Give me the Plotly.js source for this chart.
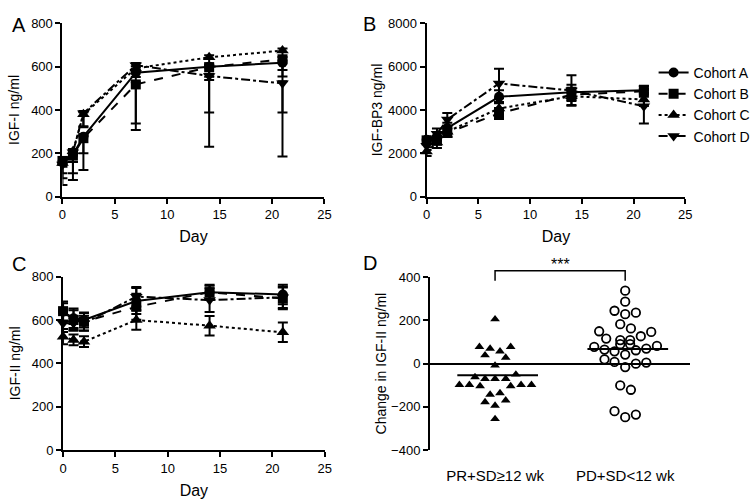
<!DOCTYPE html>
<html>
<head>
<meta charset="utf-8">
<script src="https://cdn.plot.ly/plotly-3.0.1.min.js"></script>
<style>html,body{margin:0;padding:0;background:#fff;}#chart{width:756px;height:499px;}</style>
</head>
<body>
<div id="chart"></div>
<script>
// ---------- DATA ----------
const days = [0, 1, 2, 7, 14, 21];
const cohortNames = ["Cohort A", "Cohort B", "Cohort C", "Cohort D"];

// Panel A: IGF-I ng/ml
const igf1A = [160, 195, 277, 572, 600, 618];
const igf1B = [165, 190, 270, 518, 598, 634];
const igf1C = [155, 210, 380, 592, 643, 674];
const igf1D = [148, 205, 385, 607, 557, 523];
const igf1ErrLowA = [22, 34, 77, 234, 212, 230];
const igf1ErrLowB = [57, 82, 147, 210, 60, 50];
const igf1ErrLowC = [70, 50, 60, 40, 90, 120];
const igf1ErrLowD = [94, 128, 60, 30, 326, 338];
const igf1ErrHighA = [10, 10, 10, 10, 10, 10];
const igf1ErrHighB = [10, 10, 10, 10, 10, 10];
const igf1ErrHighC = [10, 10, 10, 10, 10, 10];
const igf1ErrHighD = [10, 10, 10, 10, 10, 10];

// Panel B: IGF-BP3 ng/ml
const bp3A = [2625, 2780, 3165, 4610, 4817, 4910];
const bp3B = [2600, 2600, 2950, 3838, 4710, 4864];
const bp3C = [2080, 2500, 3000, 4070, 4632, 4485];
const bp3D = [2350, 2900, 3560, 5225, 4900, 4176];
const bp3ErrA = [150, 200, 250, 300, 350, 200];
const bp3ErrB = [150, 200, 200, 250, 300, 250];
const bp3ErrC = [200, 250, 250, 300, 400, 300];
const bp3ErrD = [200, 250, 300, 680, 700, 800];

// Panel C: IGF-II ng/ml
const igf2A = [638, 608, 600, 688, 728, 718];
const igf2B = [641, 600, 592, 661, 728, 700];
const igf2C = [523, 508, 500, 600, 574, 543];
const igf2D = [585, 585, 585, 708, 692, 705];
const igf2ErrA = [40, 45, 35, 60, 35, 45];
const igf2ErrB = [45, 45, 40, 60, 30, 50];
const igf2ErrC = [35, 25, 25, 45, 45, 45];
const igf2ErrD = [40, 35, 35, 45, 55, 50];

// Panel D: change in IGF-II ng/ml
const groupLabels = ["PR+SD\u226512 wk", "PD+SD<12 wk"];
const changePR = [206, 78, 70, 78, 39, 57, 28, -8, -62, -70, -70, -70, -50, -98, -98, -104, -104, -98, -98, -143, -136, -178, -170, -194, -256];
const jitterPR = [0, -0.12, -0.038, 0.12, -0.077, 0.038, 0.082, 0, -0.154, -0.077, 0, 0.082, 0.16, -0.274, -0.197, -0.115, 0.12, 0.2, 0.28, -0.038, 0.038, -0.077, 0.082, 0, 0];
const changePD = [338, 287, 245, 229, 236, 183, 163, 150, 147, 116, 127, 109, 109, 90, 90, 78, 82, 65, 57, 62, 70, 42, 20, 8, 0, 5, -16, -101, -121, -220, -248, -236];
const jitterPD = [0, 0, -0.082, 0, 0.082, -0.038, 0.044, -0.2, 0.2, -0.146, 0.12, -0.038, 0.038, -0.038, 0.038, -0.238, 0.244, -0.159, -0.082, 0.082, 0.162, 0, -0.159, -0.082, 0.082, 0.162, 0, -0.038, 0.044, -0.082, 0, 0.082];
const medians = [-54, 68];
const significance = "***";

// ---------- STYLE ----------
const FONT = "Arial, 'Liberation Sans', Helvetica, sans-serif";
const dashes = ["solid", "dash", "dot", "dashdot"];
const symbols = ["circle", "square", "triangle-up", "triangle-down"];
const msizes = [10, 10, 11, 11];

function cohortTrace(i, y, plus, minus, xa, ya, legend) {
  return {
    type: "scatter", mode: "lines+markers", x: days, y: y,
    name: cohortNames[i], showlegend: legend, xaxis: xa, yaxis: ya,
    cliponaxis: false,
    line: {color: "black", width: 2, dash: dashes[i]},
    marker: {color: "black", symbol: symbols[i], size: msizes[i]},
    error_y: {type: "data", array: plus, arrayminus: minus, symmetric: false,
              color: "black", thickness: 2, width: 5}
  };
}

const traces = [];
const a = [igf1A, igf1B, igf1C, igf1D];
const aLo = [igf1ErrLowA, igf1ErrLowB, igf1ErrLowC, igf1ErrLowD];
const aHi = [igf1ErrHighA, igf1ErrHighB, igf1ErrHighC, igf1ErrHighD];
for (let i = 0; i < 4; i++) traces.push(cohortTrace(i, a[i], aHi[i], aLo[i], "x", "y", false));
const b = [bp3A, bp3B, bp3C, bp3D];
const bE = [bp3ErrA, bp3ErrB, bp3ErrC, bp3ErrD];
for (let i = 0; i < 4; i++) traces.push(cohortTrace(i, b[i], bE[i], bE[i], "x2", "y2", true));
const c = [igf2A, igf2B, igf2C, igf2D];
const cE = [igf2ErrA, igf2ErrB, igf2ErrC, igf2ErrD];
for (let i = 0; i < 4; i++) traces.push(cohortTrace(i, c[i], cE[i], cE[i], "x3", "y3", false));

// Panel D scatter
traces.push({
  type: "scatter", mode: "markers", xaxis: "x4", yaxis: "y4", showlegend: false,
  x: jitterPR.map(j => 0 + j), y: changePR,
  marker: {symbol: "triangle-up", size: 8.5, color: "black"}
});
traces.push({
  type: "scatter", mode: "markers", xaxis: "x4", yaxis: "y4", showlegend: false,
  x: jitterPD.map(j => 1 + j), y: changePD,
  marker: {symbol: "circle-open", size: 8.5, color: "black", line: {width: 1.8, color: "black"}}
});
// median lines
const halfW = 0.31;
medians.forEach((m, g) => {
  traces.push({
    type: "scatter", mode: "lines", xaxis: "x4", yaxis: "y4", showlegend: false,
    x: [g + 0.02 - halfW, g + 0.02 + halfW], y: [m, m],
    line: {color: "black", width: 2}
  });
});

function axisBase(extra) {
  return Object.assign({
    showline: true, linecolor: "black", linewidth: 2,
    ticks: "outside", ticklen: 5, tickwidth: 2, tickcolor: "black",
    showgrid: false, zeroline: false, fixedrange: true,
    tickfont: {family: FONT, size: 13, color: "black"}
  }, extra);
}
const H = 499, W = 756;
const yTop = [1 - 196.7 / H, 1 - 23.3 / H];
const yBot = [1 - 450 / H, 1 - 276.7 / H];
const dayTitle = {text: "Day", font: {family: FONT, size: 16, color: "black"}, standoff: 10};
function yTitle(t, s) { return {text: t, font: {family: FONT, size: 14, color: "black"}, standoff: s}; }

const layout = {
  width: W, height: H,
  margin: {l: 0, r: 0, t: 0, b: 0},
  paper_bgcolor: "white", plot_bgcolor: "white",
  font: {family: FONT, color: "black"},
  xaxis: axisBase({domain: [62.7 / W, 325.7 / W], range: [0, 25], dtick: 5, anchor: "y", title: dayTitle}),
  yaxis: axisBase({domain: yTop, range: [0, 800], dtick: 200, anchor: "x", title: yTitle("IGF-I ng/ml", 8)}),
  xaxis2: axisBase({domain: [428.3 / W, 688 / W], range: [0, 25], dtick: 5, anchor: "y2", title: dayTitle}),
  yaxis2: axisBase({domain: yTop, range: [0, 8000], dtick: 2000, anchor: "x2", title: yTitle("IGF-BP3 ng/ml", 2)}),
  xaxis3: axisBase({domain: [63.3 / W, 326 / W], range: [0, 25], dtick: 5, anchor: "y3", title: dayTitle}),
  yaxis3: axisBase({domain: yBot, range: [0, 800], dtick: 200, anchor: "x3", title: yTitle("IGF-II ng/ml", 8)}),
  xaxis4: {domain: [431.7 / W, 693 / W], range: [-0.5, 1.5], anchor: "y4", showline: false, showgrid: false,
           zeroline: false, fixedrange: true, tickvals: [0, 1], ticktext: groupLabels,
           ticks: "outside", ticklen: 12, tickcolor: "rgba(0,0,0,0)",
           tickfont: {family: FONT, size: 15, color: "black"}},
  yaxis4: axisBase({domain: [1 - 450 / H, 1 - 277.3 / H], range: [-400, 400], dtick: 200, anchor: "x4",
           zeroline: true, zerolinecolor: "black", zerolinewidth: 2,
           title: yTitle("Change in IGF-II ng/ml", 1)}),
  legend: {x: 0.868, y: 0.886, xanchor: "left", yanchor: "top", bgcolor: "rgba(0,0,0,0)",
           font: {family: FONT, size: 14, color: "black"}, tracegroupgap: 0},
  shapes: [
    {type: "path", xref: "x4", yref: "paper",
     path: `M 0 ${1 - 280.7 / H} L 0 ${1 - 270.7 / H} L 1 ${1 - 270.7 / H} L 1 ${1 - 280.7 / H}`,
     line: {color: "black", width: 1.5}}
  ],
  annotations: [
    {text: "A", x: 10 / W, y: 1 - 12 / H, xref: "paper", yref: "paper", showarrow: false, font: {family: FONT, size: 20, color: "black"}},
    {text: "B", x: 371 / W, y: 1 - 11 / H, xref: "paper", yref: "paper", showarrow: false, font: {family: FONT, size: 20, color: "black"}},
    {text: "C", x: 10 / W, y: 1 - 264 / H, xref: "paper", yref: "paper", showarrow: false, font: {family: FONT, size: 20, color: "black"}},
    {text: "D", x: 371 / W, y: 1 - 263 / H, xref: "paper", yref: "paper", showarrow: false, font: {family: FONT, size: 20, color: "black"}},
    {text: significance, x: 0.5, xref: "x4", y: 1 - 264 / H, yref: "paper", showarrow: false, font: {family: FONT, size: 16, color: "black"}}
  ]
};

Plotly.newPlot("chart", traces, layout, {staticPlot: true, displayModeBar: false});
</script>
</body>
</html>
